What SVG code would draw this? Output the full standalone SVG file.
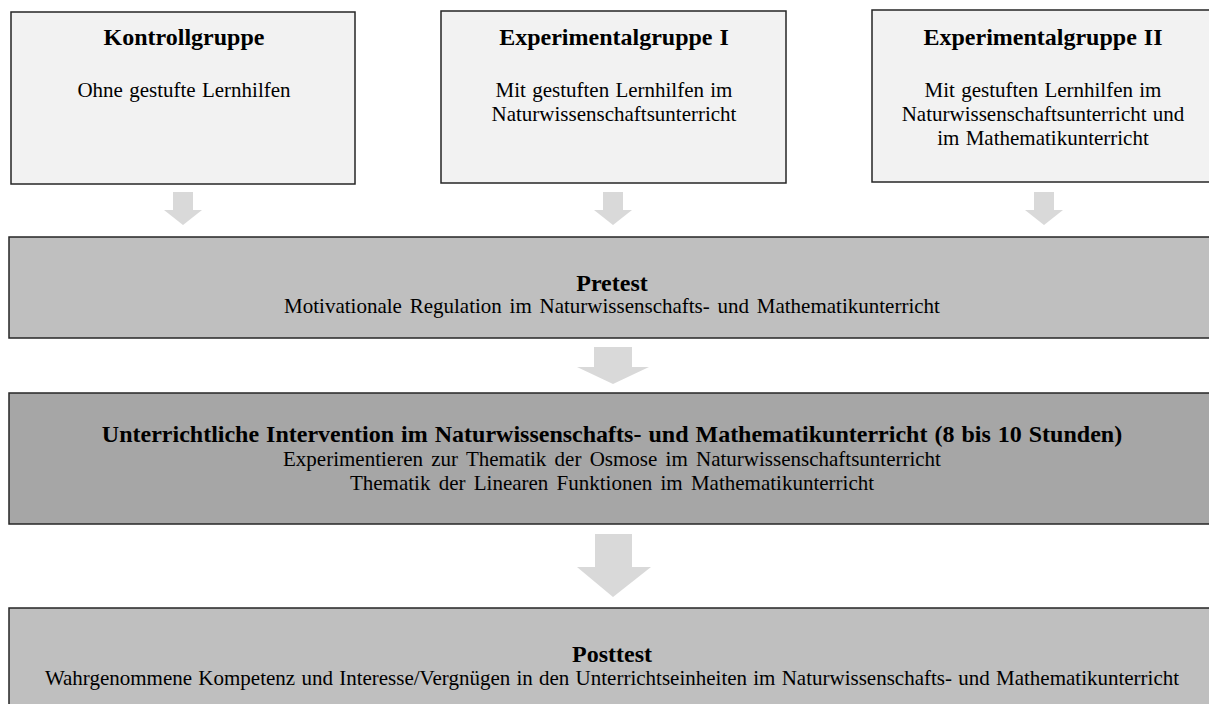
<svg xmlns="http://www.w3.org/2000/svg" width="1209" height="704" viewBox="0 0 1209 704">
<style>
.box{stroke:#262626;stroke-width:1.5}
.g1{fill:#f2f2f2}
.g2{fill:#bfbfbf}
.g3{fill:#a6a6a6}
.arr{fill:#d9d9d9}
text{font-family:"Liberation Serif","Times New Roman",serif;fill:#000;text-anchor:middle}
.t{font-weight:bold;font-size:24px;word-spacing:1px}
.b{font-size:21px;word-spacing:1px}
</style>
<rect width="1209" height="704" fill="#fff"/>
<g id="connectors">
<polygon class="arr" points="173,192 193,192 193,210 202,210 183,225 164,210 173,210"/>
<polygon class="arr" points="603,192 623,192 623,210 632,210 613,225 594,210 603,210"/>
<polygon class="arr" points="1034,192 1054,192 1054,210 1063,210 1044,225 1025,210 1034,210"/>
<polygon class="arr" points="594,347 632,347 632,367 649,367 613,384 577,367 594,367"/>
<polygon class="arr" points="595,534 632,534 632,567 651,567 613,597 577,567 595,567"/>
</g>
<g id="kontrollgruppe">
<rect class="box g1" x="11" y="12" width="344" height="172"/>
<text class="t" x="184" y="45">Kontrollgruppe</text>
<text class="b" x="184" y="97">Ohne gestufte Lernhilfen</text>
</g>
<g id="experimentalgruppe1">
<rect class="box g1" x="441" y="11" width="345" height="172"/>
<text class="t" x="614" y="45">Experimentalgruppe I</text>
<text class="b" x="614" y="97">Mit gestuften Lernhilfen im</text>
<text class="b" x="614" y="121">Naturwissenschaftsunterricht</text>
</g>
<g id="experimentalgruppe2">
<rect class="box g1" x="872" y="10" width="340" height="172"/>
<text class="t" x="1043" y="45">Experimentalgruppe II</text>
<text class="b" x="1043" y="97">Mit gestuften Lernhilfen im</text>
<text class="b" x="1043" y="121">Naturwissenschaftsunterricht und</text>
<text class="b" x="1043" y="145">im Mathematikunterricht</text>
</g>
<g id="pretest">
<rect class="box g2" x="9" y="237" width="1203" height="101"/>
<text class="t" x="612" y="291">Pretest</text>
<text class="b" x="612" y="313" style="word-spacing:2.5px">Motivationale Regulation im Naturwissenschafts- und Mathematikunterricht</text>
</g>
<g id="intervention">
<rect class="box g3" x="9" y="393" width="1203" height="131"/>
<text class="t" x="612" y="442">Unterrichtliche Intervention im Naturwissenschafts- und Mathematikunterricht (8 bis 10 Stunden)</text>
<text class="b" x="612" y="466" style="word-spacing:3px">Experimentieren zur Thematik der Osmose im Naturwissenschaftsunterricht</text>
<text class="b" x="612" y="490" style="word-spacing:3px">Thematik der Linearen Funktionen im Mathematikunterricht</text>
</g>
<g id="posttest">
<rect class="box g2" x="9" y="608" width="1203" height="110"/>
<text class="t" x="612" y="662">Posttest</text>
<text class="b" x="612" y="685">Wahrgenommene Kompetenz und Interesse/Vergnügen in den Unterrichtseinheiten im Naturwissenschafts- und Mathematikunterricht</text>
</g>
</svg>
